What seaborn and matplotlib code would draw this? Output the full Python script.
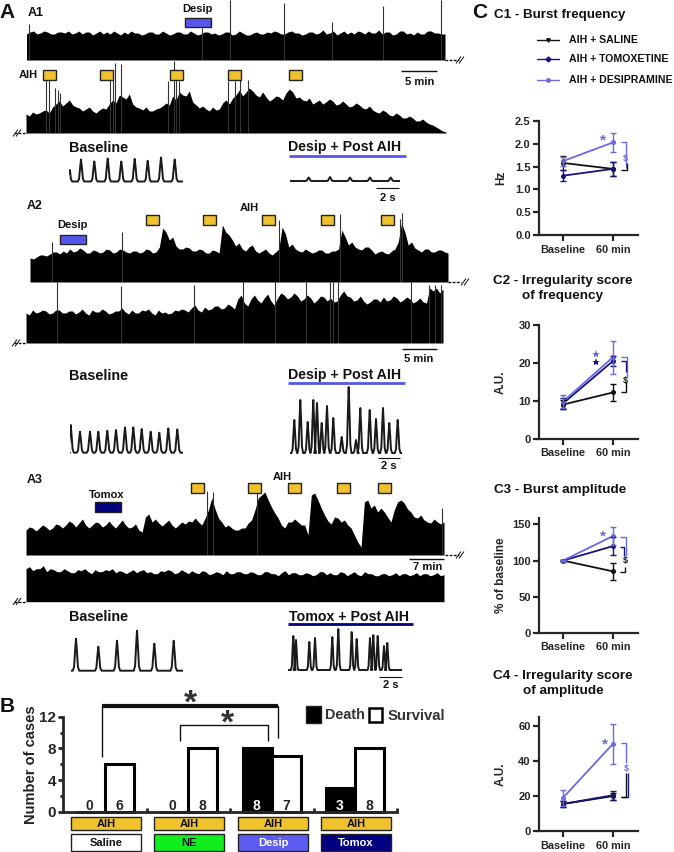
import numpy as np
import pandas as pd
import seaborn as sns
import matplotlib.pyplot as plt
from matplotlib.patches import Rectangle

W, H = 674, 852

# --- panel A: envelope heights of the integrated traces (height above trace baseline, px)
A1_TOP_ENV = [26,28,29,26,27,29,28,26,26,28,28,27,29,26,27,29,26,28,28,25,27,29,26,28,26,29,27,25,28,26,
              29,27,27,25,26,28,28,26,26,29,27,25,26,28,28,26,26,29,27,25,26,28,28,26,27,25,26,28,28,25,
              26,29,27,25,25,27,28,26,26,28,27,29,28,26,26,28,29,27,27,25,26,28,28,26,27,30,26,27,29,25,
              27,29,26,28,26,29,28,26,29,27,27,30,26,28,28,25,26,29,29,26,27,25,28,26,26,29,29,27,27,26,26]
A1_TOP_SPIKE_X = [2, 176, 204, 258, 306, 357, 415]
A1_TOP_SPIKE_H = [36, 32, 60, 57, 38, 54, 60]
A1_LOW_ENV = [19,17,21,19,20,22,23,20,26,29,32,27,30,33,28,26,25,22,24,26,22,20,23,25,24,29,33,30,38,36,
              34,39,29,26,25,23,26,22,22,24,25,27,30,28,37,33,41,38,37,42,31,28,25,27,24,22,26,23,24,30,
              33,29,35,38,43,37,41,45,42,38,36,41,36,32,34,37,36,33,40,44,41,35,36,33,32,35,29,31,33,29,
              31,34,32,28,29,32,29,26,27,30,28,25,24,27,23,21,20,23,21,18,17,20,18,15,15,17,15,12,12,14,
              11,9,8,6,4,2,1]
A1_LOW_SPIKE_X = [20, 23, 29, 32, 34, 84, 87, 89, 95, 142, 148, 150, 153, 202, 209, 214, 222]
A1_LOW_SPIKE_H = [53, 53, 45, 43, 40, 53, 58, 70, 69, 52, 72, 63, 52, 52, 52, 53, 53]
A2_UP_ENV = [24,23,25,27,27,26,28,30,30,28,31,29,33,30,31,34,32,29,29,32,31,29,30,33,32,29,30,33,32,30,
             29,31,31,29,30,33,32,29,30,35,54,50,42,45,36,33,33,35,34,31,31,33,32,29,29,32,31,29,57,50,
             47,42,36,39,33,31,35,37,31,29,31,33,29,27,30,33,55,48,35,38,33,31,30,33,31,29,30,32,32,29,
             29,31,31,33,52,45,37,40,35,33,32,35,35,32,28,30,31,29,28,31,33,40,59,50,37,40,34,32,30,33,
             33,30,30,32,32,30,29]
A2_UP_SPIKE_X = [22, 92, 249, 310, 370, 372]
A2_UP_SPIKE_H = [40, 50, 62, 68, 63, 69]
A2_LOW_ENV = [30,28,33,30,31,33,32,29,30,33,33,30,30,32,32,29,31,34,30,28,33,31,31,34,32,29,30,32,32,35,
              31,29,33,30,30,33,32,34,30,28,33,30,31,29,30,33,32,34,33,31,35,38,33,31,36,33,34,37,37,34,
              35,39,37,34,44,48,40,37,44,48,43,40,45,49,42,38,45,50,48,44,46,50,47,42,44,48,45,40,43,47,
              46,42,45,41,42,48,52,47,46,42,43,47,42,39,41,44,44,41,46,42,43,47,45,41,43,46,44,40,42,45,
              41,40,55,52,55,50,54]
A2_LOW_SPIKE_X = [31, 95, 168, 217, 249, 280, 304, 307, 312, 385, 403, 409, 415]
A2_LOW_SPIKE_H = [61, 57, 58, 61, 61, 61, 61, 61, 61, 61, 58, 58, 58]
A3_UP_ENV = [25,28,27,24,27,30,28,25,27,31,30,27,30,34,32,28,32,36,30,27,30,33,32,28,30,34,30,27,31,35,
             30,27,28,31,25,23,38,41,33,36,32,29,32,35,30,27,30,33,31,34,33,37,33,30,37,45,57,46,37,33,
             28,30,27,25,25,27,27,32,35,45,57,60,63,55,48,42,37,30,27,33,33,36,33,30,30,20,60,62,55,47,
             40,34,31,38,37,33,35,30,27,20,13,8,53,55,47,50,43,47,43,38,33,45,53,55,52,46,43,38,37,40,
             35,33,32,36,33,31,33]
A3_UP_SPIKE_X = [181, 187, 231, 416]
A3_UP_SPIKE_H = [64, 63, 63, 47]
A3_LOW_ENV = [33,35,31,33,33,36,30,33,32,30,30,33,31,29,29,32,31,33,30,28,32,30,30,32,31,33,29,31,30,28,
              30,32,29,31,32,29,30,28,28,31,30,32,31,28,29,32,30,28,31,29,28,31,30,27,28,30,29,27,31,28,
              28,30,30,28,28,30,29,27,27,30,30,28,28,26,29,31,27,29,29,27,27,29,28,26,27,30,30,27,29,27,
              27,30,29,26,28,30,27,26,30,28,28,26,26,28,28,26,27,29,26,28,28,26,27,29,26,28,28,26,27,29,26,27]

# --- panel A: burst patterns (peak position px from trace start, peak height px)
A1_BASE_X = [0, 12, 25.3, 38.7, 52.3, 65.7, 78.7, 92, 105.7]
A1_BASE_H = [19, 22, 20, 23, 20, 22.6, 20.7, 24, 22]
A1_POST_X = [18.7, 40, 60, 80, 100.7]
A1_POST_H = [3.5, 4, 3.5, 3.5, 3.5]
A2_BASE_X = [0.7, 10, 20, 28.3, 37.3, 46, 55, 63.3, 71.7, 80.7, 89.3, 98.3, 107.3]
A2_BASE_H = [27.7, 21, 21, 21, 22, 22.7, 25.3, 25.3, 23.7, 21, 20, 24.3, 23.3]
A2_POST_X = [4.3, 10.3, 17.7, 23.3, 27, 31.7, 37, 43.3, 51.7, 58.7, 66, 70.3, 79.7, 86, 93, 99.3, 107.7]
A2_POST_H = [33, 53, 31, 53, 50, 30, 47, 35, 16, 66, 13, 45, 43, 34, 45, 30, 33]
A3_BASE_X = [5, 27.3, 46, 66, 83.3, 102.7]
A3_BASE_H = [32, 24, 30, 40, 27, 30]
A3_POST_X = [5.3, 8, 21.3, 27, 44.3, 50.3, 63.7, 68.7, 82, 85.3, 89.7, 96, 99.3]
A3_POST_H = [34, 30, 28, 32, 33, 41, 38, 31, 32, 35, 34, 24, 27]

# --- panel B
B_GROUPS = ['Saline', 'NE', 'Desip', 'Tomox']
B_DEATH = [0, 0, 8, 3]
B_SURVIVAL = [6, 8, 7, 8]
B_BOX_COLORS = ['white', '#10ee20', '#5c5cf0', '#000080']
B_TEXT_COLORS = ['#111111', '#111111', 'white', 'white']

# --- panel C
C_TIMES = ['Baseline', '60 min']
C1_SALINE, C1_SALINE_ERR = [1.58, 1.45], [0.15, 0.15]
C1_TOMOX, C1_TOMOX_ERR = [1.30, 1.45], [0.12, 0.15]
C1_DESIP, C1_DESIP_ERR = [1.62, 2.03], [0.10, 0.21]
C2_SALINE, C2_SALINE_ERR = [9.0, 12.2], [1.2, 2.3]
C2_TOMOX, C2_TOMOX_ERR = [9.3, 20.5], [1.5, 1.3]
C2_DESIP, C2_DESIP_ERR = [9.8, 21.5], [1.6, 4.3]
C3_SALINE, C3_SALINE_ERR = [100, 85], [1, 12]
C3_TOMOX, C3_TOMOX_ERR = [100, 120], [1, 12]
C3_DESIP, C3_DESIP_ERR = [100, 134], [1, 12]
C4_SALINE, C4_SALINE_ERR = [15.5, 20.0], [1.5, 2.0]
C4_TOMOX, C4_TOMOX_ERR = [15.5, 20.5], [1.5, 2.5]
C4_DESIP, C4_DESIP_ERR = [19.0, 50.0], [4.5, 11.5]

SALINE_C = '#111111'
TOMOX_C = '#15157a'
DESIP_C = '#6a6ae0'
AIH_C = '#f0c22e'
DESIP_BOX = '#5555ee'
NAVY = '#000080'
FONT = ['Liberation Sans', 'DejaVu Sans']

sns.set_theme(style='ticks')
plt.rcParams['font.family'] = FONT
plt.rcParams['font.weight'] = 'bold'
plt.rcParams['axes.labelweight'] = 'bold'

fig = plt.figure(figsize=(W / 100, H / 100), dpi=100, facecolor='white')


def px_axes(left, top, width, height, **kw):
    return fig.add_axes([left / W, 1 - (top + height) / H, width / W, height / H], **kw)


# overlay in image pixels for labels, boxes and brackets
ov = fig.add_axes([0, 0, 1, 1], zorder=10)
ov.set_xlim(0, W)
ov.set_ylim(H, 0)
ov.axis('off')
ov.patch.set_alpha(0)


def label(x, y, s, size=8, color='#111111', ha='center', **kw):
    ov.text(x, y, s, fontsize=size, color=color, ha=ha, va='center', fontweight='bold', **kw)


def box(x0, x1, y0, y1, color, lw=1.0, edge='#222222'):
    ov.add_patch(Rectangle((x0, y0), x1 - x0, y1 - y0, facecolor=color, edgecolor=edge, linewidth=lw))


def seg(xs, ys, color='#111111', lw=1.0, **kw):
    ov.plot(xs, ys, color=color, lw=lw, solid_capstyle='butt', **kw)


def bracket(x0, x1, y0, y1, color, lw=1.0):
    seg([x0, x1, x1], [y0, y0, y1], color=color, lw=lw)


def draw_trace(left, right, base, top, env, spike_x=(), spike_h=()):
    ax = px_axes(left, top, right - left, base - top)
    x = np.linspace(0, right - left, len(env))
    ax.fill_between(x, 0, env, color='black', lw=0)
    ax.vlines(spike_x, 0, spike_h, color='#333333', lw=0.8)
    ax.set_xlim(0, right - left)
    ax.set_ylim(0, base - top)
    ax.axis('off')
    ax.patch.set_alpha(0)


def draw_bursts(left, width, base, peak_x, peak_h, half=3.2, lw=1.4):
    xs, ys = [], []
    for px, ph in zip(peak_x, peak_h):
        xs += [px - half, px - half * 0.6, px - half * 0.3, px, px + half * 0.3, px + half * 0.6, px + half]
        ys += [0, ph * 0.12, ph * 0.6, ph, ph * 0.6, ph * 0.12, 0]
    xs = [0] + xs + [width]
    ys = [0] + ys + [0]
    ax = px_axes(left, base - 72, width, 74)
    sns.lineplot(x=xs, y=ys, ax=ax, color='#1a1a1a', lw=lw, sort=False, errorbar=None)
    ax.set_xlim(0, width)
    ax.set_ylim(-2, 72)
    ax.axis('off')
    ax.patch.set_alpha(0)


def break_mark(x0, x1, y, slash_x):
    seg([x0, x1], [y, y], lw=1.0, ls=(0, (2, 1)))
    for dx in (-1.5, 1.5):
        seg([slash_x + dx - 2.5, slash_x + dx + 2.5], [y + 3.5, y - 3.5], lw=0.7)


# ---- A1
draw_trace(26.5, 445, 60, 0, A1_TOP_ENV, A1_TOP_SPIKE_X, A1_TOP_SPIKE_H)
draw_trace(26, 446, 133, 60, A1_LOW_ENV, A1_LOW_SPIKE_X, A1_LOW_SPIKE_H)
label(7, 13, 'A', 15, ha='center')
label(36, 13, 'A1', 9)
label(197, 9, 'Desip', 8)
box(185, 211, 18, 27, DESIP_BOX)
label(28, 75, 'AIH', 8)
for x0 in (43, 100, 170, 228, 289):
    box(x0, x0 + 13, 70, 79.5, AIH_C)
seg([401, 437], [71, 71])
label(420, 82, '5 min', 8)
break_mark(445, 459, 60, 460)
break_mark(14, 27, 133, 17)
label(69, 148, 'Baseline', 10.4, ha='left')
label(288, 147, 'Desip + Post AIH', 10.2, ha='left')
seg([289, 406], [155.5, 155.5], color=DESIP_BOX, lw=2)
draw_bursts(69, 114, 181.5, A1_BASE_X, A1_BASE_H)
draw_bursts(290, 110, 181, A1_POST_X, A1_POST_H)
seg([376, 399], [188, 188], lw=0.8)
label(388, 198, '2 s', 8)

# ---- A2
draw_trace(30, 448, 282, 210, A2_UP_ENV, A2_UP_SPIKE_X, A2_UP_SPIKE_H)
draw_trace(26, 443, 343, 282, A2_LOW_ENV, A2_LOW_SPIKE_X, A2_LOW_SPIKE_H)
label(35, 206, 'A2', 9)
label(72, 225, 'Desip', 8)
box(60, 86, 235, 244, DESIP_BOX)
label(249, 208, 'AIH', 8)
for x0 in (146, 203, 262, 321, 381):
    box(x0, x0 + 13, 215, 225, AIH_C)
break_mark(448, 461, 282, 465)
break_mark(14, 26, 343, 16)
seg([402, 437], [349, 349])
label(419, 359, '5 min', 8)
label(69, 376, 'Baseline', 10.4, ha='left')
label(288, 375, 'Desip + Post AIH', 10.2, ha='left')
seg([288, 405], [383, 383], color=DESIP_BOX, lw=2)
draw_bursts(70, 113, 452.7, A2_BASE_X, A2_BASE_H)
draw_bursts(290, 112, 453, A2_POST_X, A2_POST_H, half=2.8)
seg([378, 400], [457.7, 457.7], lw=0.8)
label(389, 466, '2 s', 8)

# ---- A3
draw_trace(26, 444, 555, 485, A3_UP_ENV, A3_UP_SPIKE_X, A3_UP_SPIKE_H)
draw_trace(26, 444, 601.7, 560, A3_LOW_ENV)
label(35, 480, 'A3', 9)
label(107, 495, 'Tomox', 8)
box(95, 121, 502, 512, NAVY)
label(282, 477, 'AIH', 8)
for x0 in (191, 248, 288, 337, 378):
    box(x0, x0 + 13, 483, 493, AIH_C)
seg([409, 444], [559, 559])
label(428, 567, '7 min', 8)
break_mark(445, 459, 555, 460)
break_mark(14, 26, 601.5, 17)
label(69, 617, 'Baseline', 10.4, ha='left')
label(289, 617, 'Tomox + Post AIH', 10.2, ha='left')
seg([288, 413], [624, 624], color=NAVY, lw=2)
draw_bursts(71, 112, 670.7, A3_BASE_X, A3_BASE_H)
draw_bursts(288, 114, 670, A3_POST_X, A3_POST_H, half=2.4)
seg([379, 402], [677, 677], lw=0.8)
label(391, 685, '2 s', 8)

# ---- B
label(7, 707, 'B', 15)
ax_b = px_axes(63, 716.7, 334, 95)
df_b = pd.DataFrame({
    'group': B_GROUPS * 2,
    'outcome': ['Death'] * 4 + ['Survival'] * 4,
    'cases': B_DEATH + B_SURVIVAL,
})
sns.barplot(data=df_b, x='group', y='cases', hue='outcome', hue_order=['Death', 'Survival'],
            palette={'Death': 'black', 'Survival': 'white'}, width=0.7, gap=0, ax=ax_b,
            edgecolor='black', linewidth=2.2, legend=False, zorder=2, clip_on=False)
ax_b.set_xlim(-0.5, 3.5)
ax_b.set_ylim(0, 12)
ax_b.set_yticks([0, 4, 8, 12])
ax_b.set_yticks([2, 6, 10], minor=True)
ax_b.set_xticks([0.5, 1.5, 2.5, 3.5], labels=[])
ax_b.tick_params(axis='x', direction='in', length=3, width=2)
ax_b.tick_params(axis='y', which='major', length=3.5, width=2, labelsize=11, pad=1.5)
ax_b.tick_params(axis='y', which='minor', length=2, width=2)
ax_b.set_xlabel('')
ax_b.set_ylabel('Number of cases', fontsize=10.5, color='#222222')
ax_b.yaxis.set_label_coords((38 - 63) / 334, 0.5)
ax_b.patch.set_alpha(0)
sns.despine(ax=ax_b)
for s in ('left', 'bottom'):
    ax_b.spines[s].set_linewidth(2)
for i in range(4):
    ax_b.text(i - 0.19, 0.75, str(B_DEATH[i]), ha='center', va='center', fontsize=10,
              color='white' if B_DEATH[i] else '#222222', zorder=5)
    ax_b.text(i + 0.17, 0.75, str(B_SURVIVAL[i]), ha='center', va='center', fontsize=10,
              color='#222222', zorder=5)
for x0, name, fc, tc in zip((71, 154, 238, 321), B_GROUPS, B_BOX_COLORS, B_TEXT_COLORS):
    box(x0, x0 + 69.5, 817, 830, AIH_C)
    label(x0 + 35, 824, 'AIH', 8)
    box(x0, x0 + 69.5, 834, 851, fc)
    label(x0 + 35, 843, name, 8, color=tc)
seg([102, 102, 278, 278], [756.7, 705.7, 705.7, 737.7], lw=1.0)
seg([102, 278], [705.7, 705.7], lw=3)
seg([180, 180, 268, 268], [740.7, 724.7, 724.7, 740.7], lw=1.0)
label(190, 704, '*', 24, color='#333333')
label(227, 724, '*', 24, color='#333333')
box(306, 321, 706, 723, 'black')
label(325, 715, 'Death', 10.4, color='#333333', ha='left')
box(369, 382, 708, 722, 'white', lw=1.8, edge='black')
label(388, 716, 'Survival', 10.7, color='#333333', ha='left')

# ---- C legend and titles
label(480, 13, 'C', 15)
label(494, 15, 'C1 - Burst frequency', 9.6, ha='left')
for y, name, col, mk in ((40, 'AIH + SALINE', SALINE_C, 'v'),
                         (59, 'AIH + TOMOXETINE', TOMOX_C, 'D'),
                         (80, 'AIH + DESIPRAMINE', DESIP_C, 'o')):
    ov.plot([537, 559], [y, y], color=col, lw=1.0)
    ov.plot([548], [y], marker=mk, ms=2.5, color=col)
    label(569, y, name, 7.6, ha='left')
label(563, 281, 'C2 - Irregularity score', 9.7)
label(563, 296, 'of frequency', 9.7)
label(560, 490, 'C3 - Burst amplitude', 9.7)
label(563, 676, 'C4 - Irregularity score', 9.7)
label(563, 691, 'of amplitude', 9.7)


def draw_panel(top, bottom, ymax, ticks, ylabel, series):
    ax = px_axes(539, top, 99, bottom - top)
    rows = []
    for name, vals, errs, col in series:
        rows += [{'time': t, 'value': v, 'group': name} for t, v in zip(C_TIMES, vals)]
    df = pd.DataFrame(rows)
    palette = {name: col for name, _, _, col in series}
    sns.lineplot(data=df, x='time', y='value', hue='group', palette=palette, marker='o', markersize=3.6,
                 markeredgewidth=0, lw=1.3, ax=ax, legend=False, sort=False, errorbar=None)
    for name, vals, errs, col in series:
        ax.errorbar([0, 1], vals, yerr=errs, fmt='none', ecolor=col, elinewidth=1.0, capsize=2, capthick=1.0)
    ax.set_xlim(-0.48, 1.5)
    ax.set_ylim(0, ymax)
    ax.set_yticks(ticks)
    ax.set_xlabel('')
    ax.set_ylabel(ylabel, fontsize=8.5)
    ax.yaxis.set_label_coords((507 - 539) / 99, 0.5)
    ax.tick_params(axis='both', length=4, width=1.6, labelsize=8, pad=2)
    ax.tick_params(axis='x', labelsize=7.8, pad=3)
    ax.patch.set_alpha(0)
    sns.despine(ax=ax)
    for s in ('left', 'bottom'):
        ax.spines[s].set_linewidth(1.6)
    return ax


draw_panel(121, 235, 2.5, [0, 0.5, 1.0, 1.5, 2.0, 2.5], 'Hz',
           [('saline', C1_SALINE, C1_SALINE_ERR, SALINE_C), ('tomox', C1_TOMOX, C1_TOMOX_ERR, TOMOX_C),
            ('desip', C1_DESIP, C1_DESIP_ERR, DESIP_C)])
draw_panel(325, 438.7, 30, [0, 10, 20, 30], 'A.U.',
           [('saline', C2_SALINE, C2_SALINE_ERR, SALINE_C), ('tomox', C2_TOMOX, C2_TOMOX_ERR, TOMOX_C),
            ('desip', C2_DESIP, C2_DESIP_ERR, DESIP_C)])
draw_panel(518, 632.7, 159, [0, 50, 100, 150], '% of baseline',
           [('saline', C3_SALINE, C3_SALINE_ERR, SALINE_C), ('tomox', C3_TOMOX, C3_TOMOX_ERR, TOMOX_C),
            ('desip', C3_DESIP, C3_DESIP_ERR, DESIP_C)])
draw_panel(716.7, 831, 65.5, [0, 20, 40, 60], 'A.U.',
           [('saline', C4_SALINE, C4_SALINE_ERR, SALINE_C), ('tomox', C4_TOMOX, C4_TOMOX_ERR, TOMOX_C),
            ('desip', C4_DESIP, C4_DESIP_ERR, DESIP_C)])

# significance marks, C1
label(603, 140, '*', 11, color=DESIP_C)
bracket(620.7, 625.7, 142.3, 168, DESIP_C)
bracket(620.7, 627, 170, 163, SALINE_C)
label(625, 158, '$', 6.5, color=DESIP_C)
# C2
ov.plot([596], [354], marker='*', ms=6, color=DESIP_C, mew=0)
ov.plot([596], [362], marker='*', ms=6, color=TOMOX_C, mew=0)
bracket(620.7, 627, 357.3, 377, DESIP_C)
bracket(620.7, 625.7, 361, 372, TOMOX_C)
bracket(620.7, 625.7, 392.3, 382, SALINE_C)
label(625.5, 381, '$', 6.5)
# C3
label(603, 536, '*', 11, color=DESIP_C)
bracket(620, 626, 536.7, 555.7, DESIP_C)
bracket(620, 624.3, 546.7, 556, TOMOX_C)
bracket(620, 625.3, 572.3, 566.7, SALINE_C)
label(625.3, 561, '$', 6.5)
# C4
label(605, 744, '*', 11, color=DESIP_C)
bracket(621, 626, 742.7, 762.7, DESIP_C)
bracket(621, 628, 796.7, 772.7, TOMOX_C)
bracket(621, 626, 796.7, 772.7, SALINE_C)
label(626, 768, '$', 6.5, color=DESIP_C)

fig.savefig('out.png', dpi=100)
